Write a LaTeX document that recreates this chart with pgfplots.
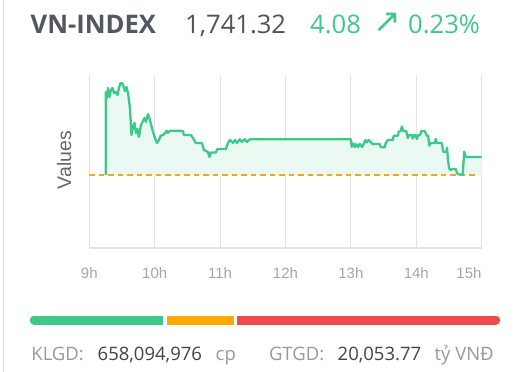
\documentclass[border=0pt]{standalone}
\usepackage{pgfplots}
\pgfplotsset{compat=1.18}
\usepackage{pgfplotstable}
\usepackage{fontspec}
\setmainfont{Open Sans}
\newfontfamily\osans{Open Sans}
\newfontfamily\lsans{Liberation Sans}
\newfontfamily\dejavu{DejaVu Sans}
\definecolor{lineG}{HTML}{3CC98A}
\definecolor{fillG}{HTML}{EAF9F2}
\definecolor{dashO}{HTML}{F7A51C}
\definecolor{gridc}{HTML}{E3E3E3}
\definecolor{tickc}{HTML}{A6A6A6}
\definecolor{ylabc}{HTML}{666666}
\definecolor{headc}{HTML}{53575E}
\definecolor{numc}{HTML}{505459}
\definecolor{labc}{HTML}{9A9A9A}
\definecolor{valc}{HTML}{444444}
\definecolor{barG}{HTML}{3CC98A}
\definecolor{barO}{HTML}{FFAA00}
\definecolor{barR}{HTML}{F04B4B}
\definecolor{borderc}{HTML}{D3E5F3}

\pgfplotstableread{
m v
15.0 1737.24
15.2 1756.06
16.23 1754.70
17.14 1756.96
18.52 1754.92
19.89 1756.51
21.27 1756.96
22.64 1755.83
24.48 1756.06
25.85 1755.38
27.23 1756.96
28.60 1758.10
30.43 1757.98
31.81 1756.96
32.73 1756.28
34.10 1757.19
35.48 1755.83
37.31 1752.43
38.69 1746.31
40.06 1748.12
41.44 1749.03
42.81 1746.76
44.19 1747.67
45.56 1745.85
47.39 1748.58
49.23 1749.48
50.60 1750.16
51.98 1749.26
53.81 1751.07
55.65 1749.71
57.94 1747.44
60.23 1745.63
62.06 1744.49
63.90 1745.17
65.27 1746.08
67.56 1746.31
69.40 1746.76
71.00 1747.28
72.00 1746.76
73.98 1747.28
79.48 1747.28
85.90 1747.21
86.81 1746.31
93.23 1746.31
95.07 1745.63
97.82 1744.49
103.31 1744.49
105.15 1742.91
108.82 1742.45
110.19 1741.32
111.57 1742.34
116.15 1742.34
117.52 1743.13
125.32 1743.13
127.15 1744.49
128.98 1745.17
131.73 1744.49
133.57 1745.17
135.40 1744.49
138.15 1745.33
139.99 1744.72
142.74 1745.33
144.57 1744.72
147.32 1745.33
240.00 1745.33
240.30 1744.49
240.83 1743.59
242.20 1744.38
243.58 1743.59
244.95 1744.27
246.33 1743.59
248.16 1744.27
249.99 1743.59
251.83 1744.27
253.20 1745.17
254.58 1744.61
256.41 1745.17
258.24 1744.72
259.62 1744.27
266.49 1744.27
267.41 1743.52
271.08 1743.52
271.99 1744.49
273.83 1745.17
278.41 1745.17
279.33 1746.15
283.00 1746.15
283.91 1747.06
285.75 1747.21
286.66 1748.23
288.04 1747.21
290.79 1747.21
292.16 1745.63
293.54 1746.31
295.83 1746.31
296.75 1745.51
298.12 1746.31
299.50 1746.31
300.41 1745.40
301.79 1746.31
303.62 1746.31
304.54 1747.21
307.75 1747.21
309.58 1746.15
310.96 1746.15
311.87 1743.88
313.25 1744.49
316.91 1744.49
317.83 1745.40
318.75 1744.49
323.33 1744.49
324.71 1742.52
327.46 1742.52
328.19 1743.43
329.11 1740.41
330.21 1738.71
331.58 1738.37
332.96 1738.60
336.17 1738.60
337.54 1737.63
338.92 1737.35
342.58 1737.35
343.96 1742.52
345.33 1741.32
360.00 1741.32
}\idx

% closing corner of the shaded area (previous close at 15h)
\pgfplotstableread{
m v
360.00 1737.24
}\closetab
\pgfplotstablevertcat{\areatab}{\idx}
\pgfplotstablevertcat{\areatab}{\closetab}

\begin{document}
\begin{tikzpicture}
\useasboundingbox (0bp,0bp) rectangle (515bp,372bp);
\fill[white] (0bp,0bp) rectangle (515bp,372bp);
\draw[borderc, line width=1bp] (3.3bp,0bp) -- (3.3bp,372bp);

% header
\node[anchor=base west, inner sep=0pt, text=headc, font={\osans\bfseries\fontsize{25.6bp}{30bp}\selectfont}] at (30.5bp,338.7bp) {VN-INDEX};
\node[anchor=base west, inner sep=0pt, text=numc, font={\osans\fontsize{25.6bp}{30bp}\selectfont}] at (185bp,338.7bp) {1,741.32};
\node[anchor=base west, inner sep=0pt, text=lineG, font={\osans\fontsize{25.6bp}{30bp}\selectfont}] at (310bp,338.7bp) {4.08};
\node[anchor=base west, inner sep=0pt, text=lineG, font={\dejavu\fontsize{33bp}{36bp}\selectfont}] at (373bp,339bp) {↗};
\node[anchor=base west, inner sep=0pt, text=lineG, font={\osans\fontsize{25.6bp}{30bp}\selectfont}] at (408bp,338.7bp) {0.23\%};

% y label
\node[rotate=90, anchor=base, inner sep=0pt, text=ylabc, font={\lsans\fontsize{19.5bp}{23bp}\selectfont}] at (71bp,212bp) {Values};

\begin{axis}[
  at={(89.3bp,124bp)}, anchor=south west,
  scale only axis, width=392.4bp, height=173bp,
  xmin=0, xmax=360, ymin=1720.7, ymax=1759.9,
  axis x line=bottom, axis y line=none,
  x axis line style={draw=gridc, line width=1.1bp, -},
  xtick={0,60,120,180,240,300,360},
  xticklabels={9h,10h,11h,12h,13h,14h,{}},
  xmajorgrids, grid style={draw=gridc, line width=1.1bp},
  major tick length=0pt,
  xticklabel style={font={\lsans\fontsize{15bp}{18bp}\selectfont}, text=tickc, anchor=north, inner sep=0pt, yshift=-19bp},
  ytick=\empty,
]
\addplot[fill=fillG, draw=none] table[x=m,y=v] {\areatab};
\addplot[draw=dashO, line width=2.1bp, dash pattern=on 5.5bp off 4bp] coordinates {(0,1737.24) (355,1737.24)};
\addplot[draw=lineG, line width=2.3bp, line join=round, mark=none] table[x=m,y=v] {\idx};
\end{axis}
\node[anchor=north east, inner sep=0pt, text=tickc, font={\lsans\fontsize{15bp}{18bp}\selectfont}] at (481.7bp,105bp) {15h};

% bottom bar
\begin{axis}[
  at={(30bp,46.7bp)}, anchor=south west,
  scale only axis, width=470bp, height=10bp,
  xmin=0, xmax=470, ymin=-1, ymax=1,
  hide axis, clip=false,
]
\addplot[draw=barG, line width=8.7bp] coordinates {(4.35,0) (132.7,0)};
\addplot[only marks, mark=*, mark size=4.35bp, color=barG, mark options={draw=none, fill=barG}] coordinates {(4.35,0)};
\addplot[draw=barO, line width=8.7bp] coordinates {(136.7,0) (204,0)};
\addplot[draw=barR, line width=8.7bp] coordinates {(206.7,0) (465.65,0)};
\addplot[only marks, mark=*, mark size=4.35bp, color=barR, mark options={draw=none, fill=barR}] coordinates {(465.65,0)};
\end{axis}

% bottom texts
\node[anchor=base west, inner sep=0pt, text=labc, font={\osans\fontsize{18.5bp}{22bp}\selectfont}] at (31.2bp,12bp) {KLGD:};
\node[anchor=base west, inner sep=0pt, text=valc, font={\osans\fontsize{18.5bp}{22bp}\selectfont}] at (97.5bp,12bp) {658,094,976};
\node[anchor=base west, inner sep=0pt, text=labc, font={\osans\fontsize{18.5bp}{22bp}\selectfont}] at (215.5bp,12bp) {cp};
\node[anchor=base west, inner sep=0pt, text=labc, font={\osans\fontsize{18.5bp}{22bp}\selectfont}] at (268.8bp,12bp) {GTGD:};
\node[anchor=base west, inner sep=0pt, text=valc, font={\osans\fontsize{18.5bp}{22bp}\selectfont}] at (337.5bp,12bp) {20,053.77};
\node[anchor=base west, inner sep=0pt, text=labc, font={\osans\fontsize{18.5bp}{22bp}\selectfont}] at (434.5bp,12bp) {tỷ VNĐ};
\end{tikzpicture}
\end{document}
